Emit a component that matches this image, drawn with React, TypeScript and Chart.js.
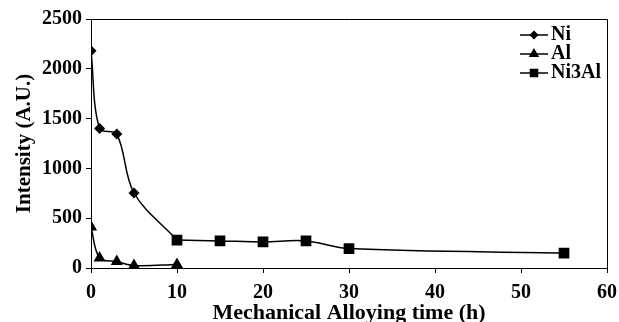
import React, { useEffect, useRef } from "react";
import { Chart, registerables } from "chart.js";
import { drawPoint } from "chart.js/helpers";

Chart.register(...registerables);

const niTimes = [0, 1, 3, 5, 10];
const niValues = [2180, 1400, 1345, 753, 280];
const alTimes = [0, 1, 3, 5, 10];
const alValues = [412, 100, 65, 25, 35];
const ni3alTimes = [10, 15, 20, 25, 30, 55];
const ni3alValues = [280, 272, 262, 272, 195, 150];
const xTicks = [0, 10, 20, 30, 40, 50, 60];
const yTicks = [0, 500, 1000, 1500, 2000, 2500];

const FONT = "'Liberation Serif', 'Times New Roman', serif";
const W = 619;
const H = 345;

const toXY = (xs: number[], ys: number[]) => xs.map((x, i) => ({ x, y: ys[i] }));

const boxPlugin = {
  id: "boxPlugin",
  afterDraw(chart: any) {
    const { ctx, chartArea } = chart;
    ctx.save();
    ctx.strokeStyle = "#000";
    ctx.lineWidth = 1;
    ctx.beginPath();
    ctx.moveTo(chartArea.left, chartArea.top + 0.5);
    ctx.lineTo(chartArea.right + 0.5, chartArea.top + 0.5);
    ctx.lineTo(chartArea.right + 0.5, chartArea.bottom);
    ctx.stroke();
    // legend
    const rows = [35, 54, 73];
    chart.data.datasets.forEach((ds: any, i: number) => {
      const y = rows[i];
      ctx.strokeStyle = "#000";
      ctx.lineWidth = 1.5;
      ctx.beginPath();
      ctx.moveTo(520, y);
      ctx.lineTo(548, y);
      ctx.stroke();
      ctx.fillStyle = "#000";
      drawPoint(
        ctx,
        { pointStyle: ds.legendStyle, radius: ds.legendRadius, borderWidth: 1, rotation: 0 },
        534,
        y
      );
      ctx.fillStyle = "#000";
      ctx.font = `bold 20px ${FONT}`;
      ctx.textBaseline = "middle";
      ctx.textAlign = "left";
      ctx.fillText(ds.label, 551, y);
    });
    ctx.restore();
  },
};

export default function App() {
  const ref = useRef<HTMLCanvasElement>(null);
  useEffect(() => {
    if (!ref.current) return;
    const common = {
      borderColor: "#000",
      backgroundColor: "#000",
      pointBackgroundColor: "#000",
      pointBorderColor: "#000",
      borderWidth: 1.5,
      tension: 0.35,
      fill: false,
    };
    const chart = new Chart(ref.current, {
      type: "line",
      data: {
        datasets: [
          {
            ...common,
            label: "Ni",
            data: toXY(niTimes, niValues),
            pointStyle: "rectRot",
            pointRadius: (c: any) => (c.dataIndex === niTimes.length - 1 ? 0 : 4.5),
            legendStyle: "rectRot",
            legendRadius: 3.5,
          } as any,
          {
            ...common,
            label: "Al",
            data: toXY(alTimes, alValues),
            pointStyle: "triangle",
            pointRadius: 5.5,
            legendStyle: "triangle",
            legendRadius: 4.5,
          } as any,
          {
            ...common,
            label: "Ni3Al",
            data: toXY(ni3alTimes, ni3alValues),
            pointStyle: "rect",
            pointRadius: 6.5,
            legendStyle: "rect",
            legendRadius: 5,
          } as any,
        ],
      },
      options: {
        animation: false,
        responsive: false,
        maintainAspectRatio: false,
        events: [],
        layout: { padding: { top: 19, right: 12, left: 0, bottom: 0 } },
        plugins: {
          legend: { display: false },
          tooltip: { enabled: false },
        },
        scales: {
          x: {
            type: "linear",
            min: 0,
            max: 60,
            afterFit: (s: any) => {
              s.height = H - 268;
              s.paddingLeft = 0;
              s.paddingRight = 0;
            },
            afterBuildTicks: (s: any) => {
              s.ticks = xTicks.map((v) => ({ value: v }));
            },
            grid: {
              drawOnChartArea: false,
              drawTicks: true,
              tickLength: 5,
              color: "#000",
            },
            border: { display: true, color: "#000", width: 1 },
            ticks: {
              color: "#000",
              font: { family: FONT, size: 20, weight: "bold" },
              padding: 8,
              maxRotation: 0,
              callback: (v: any) => String(v),
            },
            title: {
              display: true,
              text: "Mechanical Alloying time (h)",
              color: "#000",
              font: { family: FONT, size: 22, weight: "bold" },
              padding: { top: 0, bottom: 18 },
            },
          },
          y: {
            type: "linear",
            min: 0,
            max: 2500,
            afterFit: (s: any) => {
              s.width = 91;
              s.paddingTop = 0;
              s.paddingBottom = 0;
            },
            afterBuildTicks: (s: any) => {
              s.ticks = yTicks.map((v) => ({ value: v }));
            },
            grid: {
              drawOnChartArea: false,
              drawTicks: true,
              tickLength: 5,
              color: "#000",
            },
            border: { display: true, color: "#000", width: 1 },
            ticks: {
              color: "#000",
              font: { family: FONT, size: 20, weight: "bold" },
              padding: 4,
              callback: (v: any) => String(v),
            },
            title: {
              display: true,
              text: "Intensity (A.U.)",
              color: "#000",
              font: { family: FONT, size: 21, weight: "bold" },
              padding: { top: 12, bottom: 0 },
            },
          },
        },
      },
      plugins: [boxPlugin],
    } as any);
    return () => chart.destroy();
  }, []);
  return (
    <div
      style={{
        position: "fixed",
        left: 0,
        top: 0,
        width: W,
        height: 322,
        overflow: "hidden",
        background: "#fff",
      }}
    >
      <canvas ref={ref} width={W} height={H} style={{ display: "block", width: W, height: H }} />
    </div>
  );
}
